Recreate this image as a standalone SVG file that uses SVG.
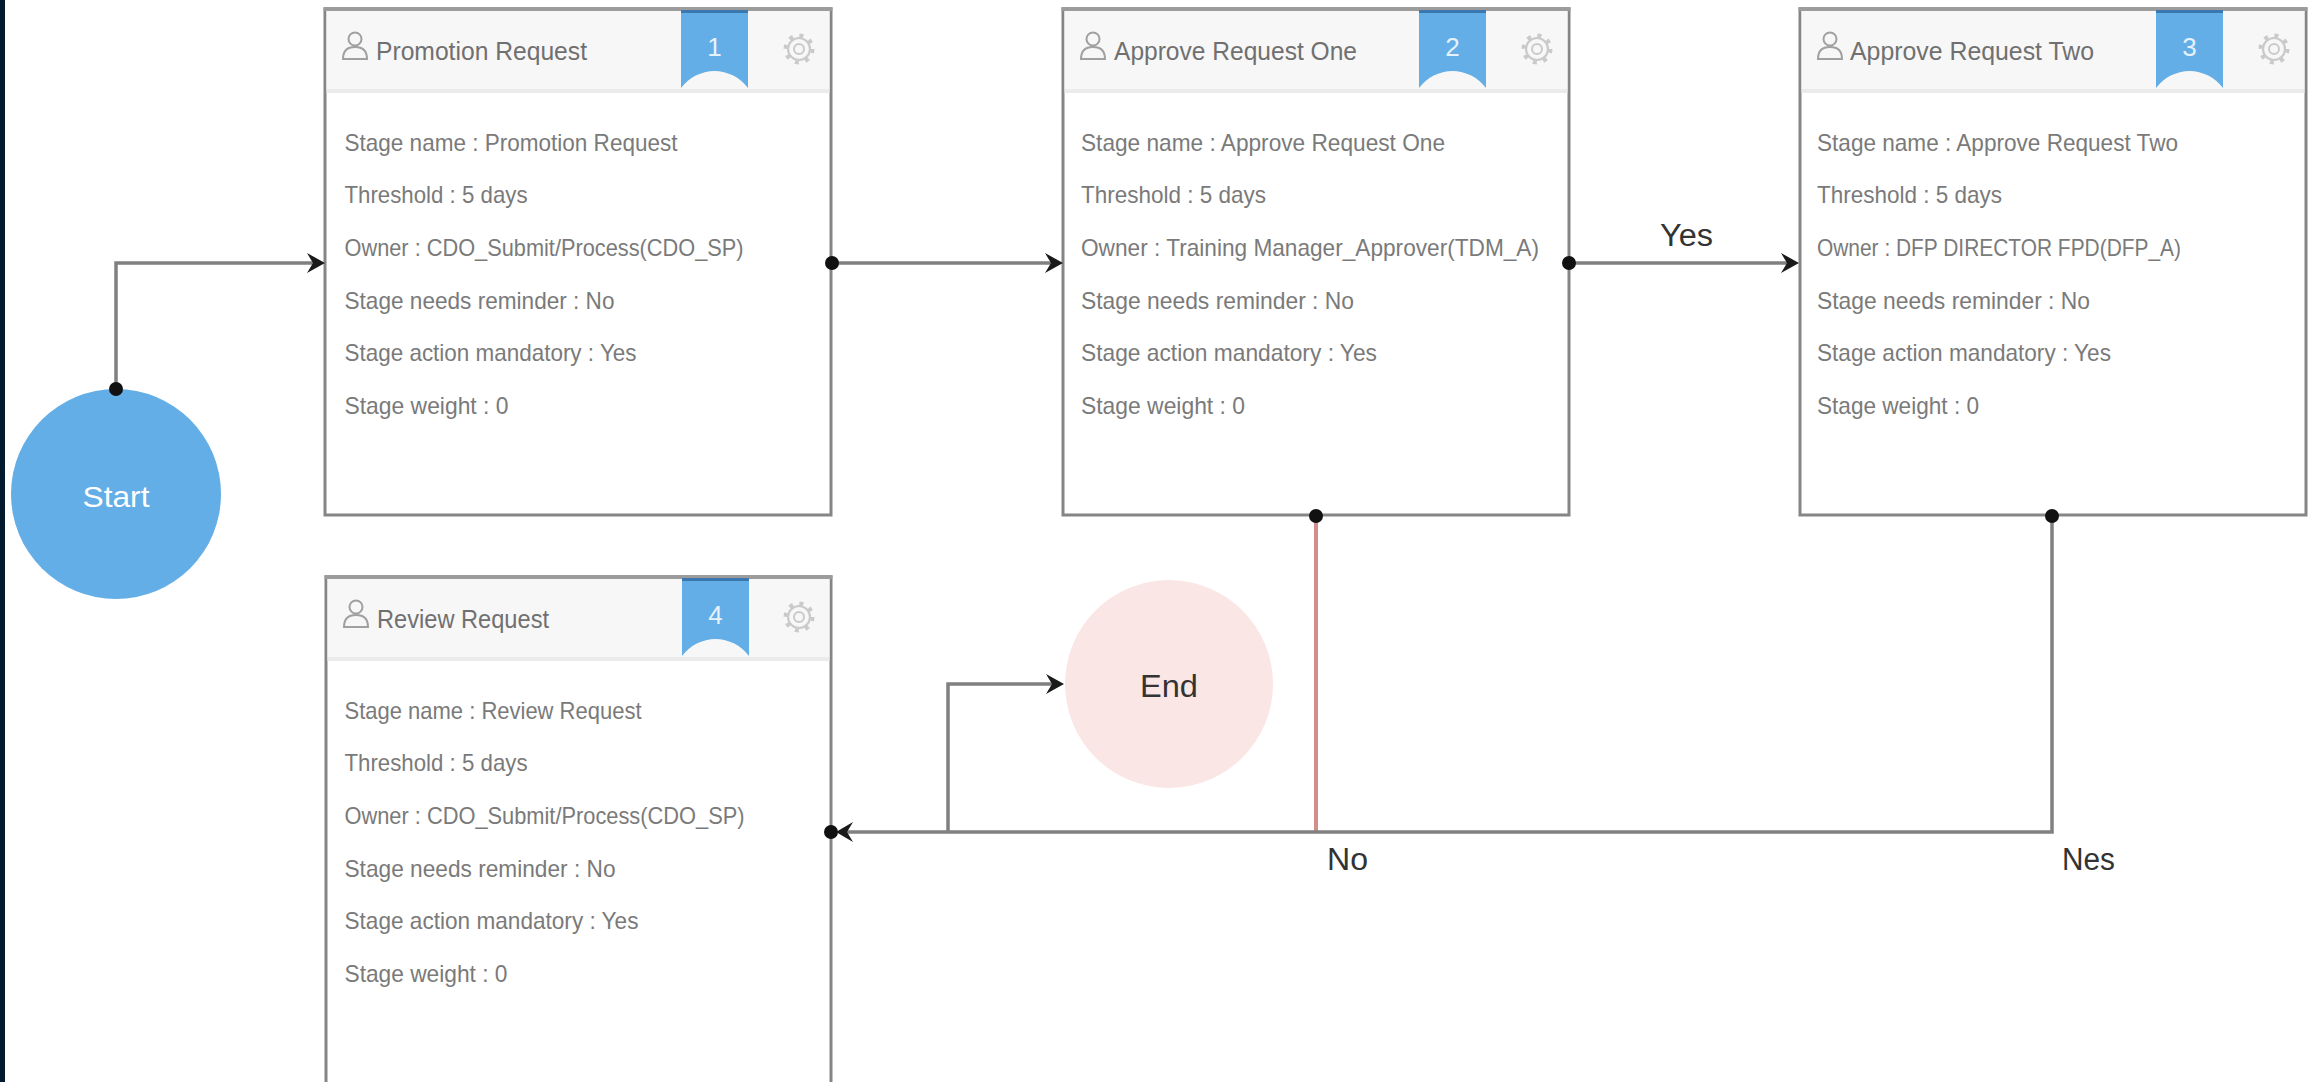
<svg xmlns="http://www.w3.org/2000/svg" width="2318" height="1082" viewBox="0 0 2318 1082">
<style>
.frame{fill:#ffffff;stroke:#858585;stroke-width:3}
.topbar{fill:#9c9c9c}
.hdr{fill:#f7f7f7}
.hdrline{fill:#ebebeb}
.rib{fill:#63aee6}
.ribtop{fill:#3b78b0}
.num{font-family:"Liberation Sans",Arial,sans-serif;font-size:26px;fill:#e6f2fb;text-anchor:middle}
.title{font-family:"Liberation Sans",Arial,sans-serif;font-size:25px;fill:#707070}
.body{font-family:"Liberation Sans",Arial,sans-serif;font-size:24px;fill:#7a7a7a}
.icon{fill:none;stroke:#a0a0a0;stroke-width:2}
.gear{fill:none;stroke:#cacaca}
.conn{fill:none;stroke:#808080;stroke-width:3.5}
.red{fill:none;stroke:#d28e8a;stroke-width:4}
.dot{fill:#111111}
.arr{fill:#1a1a1a}
.lbl{font-family:"Liberation Sans",Arial,sans-serif;font-size:31px;fill:#333333}
</style>
<defs>
<g id="person">
<circle cx="30" cy="30" r="6.5" class="icon"/>
<path d="M18,50 C18,41 23,38 30,38 C37,38 42,41 42,50 Z" class="icon"/>
</g>
<g id="gearicon">
<circle cx="0" cy="0" r="13.5" class="gear" stroke-width="4" stroke-dasharray="4 6.6"/>
<circle cx="0" cy="0" r="11" class="gear" stroke-width="2.2"/>
<circle cx="0" cy="0" r="5" class="gear" stroke-width="2"/>
</g>
<path id="ribbon" d="M356,1 H423 V79 A41.5,41.5 0 0 0 356,79 Z"/>
</defs>

<rect x="0" y="0" width="2318" height="1082" fill="#ffffff"/>
<rect x="0" y="0" width="5" height="1082" fill="#03192e"/>

<!-- Start -->
<g id="start">
<circle cx="116" cy="494" r="105" fill="#63aee6"/>
<text x="116" y="507" font-family="Liberation Sans, Arial, sans-serif" font-size="29" fill="#ffffff" text-anchor="middle" textLength="67" lengthAdjust="spacingAndGlyphs">Start</text>
</g>

<!-- End -->
<g id="end">
<circle cx="1169" cy="684" r="104" fill="#fbe6e6"/>
<text x="1169" y="697" font-family="Liberation Sans, Arial, sans-serif" font-size="31" fill="#333333" text-anchor="middle" textLength="58" lengthAdjust="spacingAndGlyphs">End</text>
</g>

<!-- Box 1 -->
<g id="stage1" transform="translate(325,9)">
<rect class="frame" x="0" y="0" width="506" height="506"/>
<rect class="topbar" x="-1.5" y="-2" width="509" height="4"/>
<rect class="hdr" x="1.5" y="2" width="503" height="78"/>
<rect class="hdrline" x="1.5" y="80" width="503" height="4"/>
<use href="#ribbon" class="rib"/>
<rect class="ribtop" x="356" y="1" width="67" height="3"/>
<text class="num" x="389.5" y="47">1</text>
<use href="#person"/>
<use href="#gearicon" x="474" y="40"/>
<text class="title" x="51" y="51" textLength="211" lengthAdjust="spacingAndGlyphs">Promotion Request</text>
<text class="body" x="19.5" y="141.5" textLength="333" lengthAdjust="spacingAndGlyphs">Stage name : Promotion Request</text>
<text class="body" x="19.5" y="194.2" textLength="183" lengthAdjust="spacingAndGlyphs">Threshold : 5 days</text>
<text class="body" x="19.5" y="246.9" textLength="399" lengthAdjust="spacingAndGlyphs">Owner : CDO_Submit/Process(CDO_SP)</text>
<text class="body" x="19.5" y="299.6" textLength="270" lengthAdjust="spacingAndGlyphs">Stage needs reminder : No</text>
<text class="body" x="19.5" y="352.3" textLength="292" lengthAdjust="spacingAndGlyphs">Stage action mandatory : Yes</text>
<text class="body" x="19.5" y="405" textLength="164" lengthAdjust="spacingAndGlyphs">Stage weight : 0</text>
</g>

<!-- Box 2 -->
<g id="stage2" transform="translate(1063,9)">
<rect class="frame" x="0" y="0" width="506" height="506"/>
<rect class="topbar" x="-1.5" y="-2" width="509" height="4"/>
<rect class="hdr" x="1.5" y="2" width="503" height="78"/>
<rect class="hdrline" x="1.5" y="80" width="503" height="4"/>
<use href="#ribbon" class="rib"/>
<rect class="ribtop" x="356" y="1" width="67" height="3"/>
<text class="num" x="389.5" y="47">2</text>
<use href="#person"/>
<use href="#gearicon" x="474" y="40"/>
<text class="title" x="51" y="51" textLength="243" lengthAdjust="spacingAndGlyphs">Approve Request One</text>
<text class="body" x="18" y="141.5" textLength="364" lengthAdjust="spacingAndGlyphs">Stage name : Approve Request One</text>
<text class="body" x="18" y="194.2" textLength="185" lengthAdjust="spacingAndGlyphs">Threshold : 5 days</text>
<text class="body" x="18" y="246.9" textLength="458" lengthAdjust="spacingAndGlyphs">Owner : Training Manager_Approver(TDM_A)</text>
<text class="body" x="18" y="299.6" textLength="273" lengthAdjust="spacingAndGlyphs">Stage needs reminder : No</text>
<text class="body" x="18" y="352.3" textLength="296" lengthAdjust="spacingAndGlyphs">Stage action mandatory : Yes</text>
<text class="body" x="18" y="405" textLength="164" lengthAdjust="spacingAndGlyphs">Stage weight : 0</text>
</g>

<!-- Box 3 -->
<g id="stage3" transform="translate(1800,9)">
<rect class="frame" x="0" y="0" width="506" height="506"/>
<rect class="topbar" x="-1.5" y="-2" width="509" height="4"/>
<rect class="hdr" x="1.5" y="2" width="503" height="78"/>
<rect class="hdrline" x="1.5" y="80" width="503" height="4"/>
<use href="#ribbon" class="rib"/>
<rect class="ribtop" x="356" y="1" width="67" height="3"/>
<text class="num" x="389.5" y="47">3</text>
<use href="#person"/>
<use href="#gearicon" x="474" y="40"/>
<text class="title" x="50" y="51" textLength="244" lengthAdjust="spacingAndGlyphs">Approve Request Two</text>
<text class="body" x="17" y="141.5" textLength="361" lengthAdjust="spacingAndGlyphs">Stage name : Approve Request Two</text>
<text class="body" x="17" y="194.2" textLength="185" lengthAdjust="spacingAndGlyphs">Threshold : 5 days</text>
<text class="body" x="17" y="246.9" textLength="364" lengthAdjust="spacingAndGlyphs">Owner : DFP DIRECTOR FPD(DFP_A)</text>
<text class="body" x="17" y="299.6" textLength="273" lengthAdjust="spacingAndGlyphs">Stage needs reminder : No</text>
<text class="body" x="17" y="352.3" textLength="294" lengthAdjust="spacingAndGlyphs">Stage action mandatory : Yes</text>
<text class="body" x="17" y="405" textLength="162" lengthAdjust="spacingAndGlyphs">Stage weight : 0</text>
</g>

<!-- Box 4 -->
<g id="stage4" transform="translate(326,577)">
<rect class="frame" x="0" y="0" width="505" height="515"/>
<rect class="topbar" x="-1.5" y="-2" width="508" height="4"/>
<rect class="hdr" x="1.5" y="2" width="502" height="78"/>
<rect class="hdrline" x="1.5" y="80" width="502" height="4"/>
<use href="#ribbon" class="rib"/>
<rect class="ribtop" x="356" y="1" width="67" height="3"/>
<text class="num" x="389.5" y="47">4</text>
<use href="#person"/>
<use href="#gearicon" x="473" y="40"/>
<text class="title" x="51" y="51" textLength="172" lengthAdjust="spacingAndGlyphs">Review Request</text>
<text class="body" x="18.5" y="141.5" textLength="297" lengthAdjust="spacingAndGlyphs">Stage name : Review Request</text>
<text class="body" x="18.5" y="194.2" textLength="183" lengthAdjust="spacingAndGlyphs">Threshold : 5 days</text>
<text class="body" x="18.5" y="246.9" textLength="400" lengthAdjust="spacingAndGlyphs">Owner : CDO_Submit/Process(CDO_SP)</text>
<text class="body" x="18.5" y="299.6" textLength="271" lengthAdjust="spacingAndGlyphs">Stage needs reminder : No</text>
<text class="body" x="18.5" y="352.3" textLength="294" lengthAdjust="spacingAndGlyphs">Stage action mandatory : Yes</text>
<text class="body" x="18.5" y="405" textLength="163" lengthAdjust="spacingAndGlyphs">Stage weight : 0</text>
</g>

<!-- connectors (drawn on top so dots and arrowheads show fully) -->
<g id="connectors">
<polyline class="conn" points="116,389 116,263 318,263"/>
<line class="conn" x1="832" y1="263" x2="1056" y2="263"/>
<line class="conn" x1="1569" y1="263" x2="1792" y2="263"/>
<line class="red" x1="1316" y1="516" x2="1316" y2="832"/>
<polyline class="conn" points="2052,516 2052,832 845,832"/>
<polyline class="conn" points="948,832 948,684 1056,684"/>
<circle class="dot" cx="116" cy="389" r="7"/>
<circle class="dot" cx="832" cy="263" r="7"/>
<circle class="dot" cx="1569" cy="263" r="7"/>
<circle class="dot" cx="1316" cy="516" r="7"/>
<circle class="dot" cx="2052" cy="516" r="7"/>
<circle class="dot" cx="831" cy="832" r="7"/>
<path class="arr" d="M325,263 L307,253 L313,263 L307,273 Z"/>
<path class="arr" d="M1063,263 L1045,253 L1051,263 L1045,273 Z"/>
<path class="arr" d="M1799,263 L1781,253 L1787,263 L1781,273 Z"/>
<path class="arr" d="M1064,684 L1046,674 L1052,684 L1046,694 Z"/>
<path class="arr" d="M836,832 L853,822 L847,832 L853,842 Z"/>
<text class="lbl" x="1660" y="246" textLength="53" lengthAdjust="spacingAndGlyphs">Yes</text>
<text class="lbl" x="1327" y="870" textLength="41" lengthAdjust="spacingAndGlyphs">No</text>
<text class="lbl" x="2062" y="870" textLength="53" lengthAdjust="spacingAndGlyphs">Nes</text>
</g>
</svg>
